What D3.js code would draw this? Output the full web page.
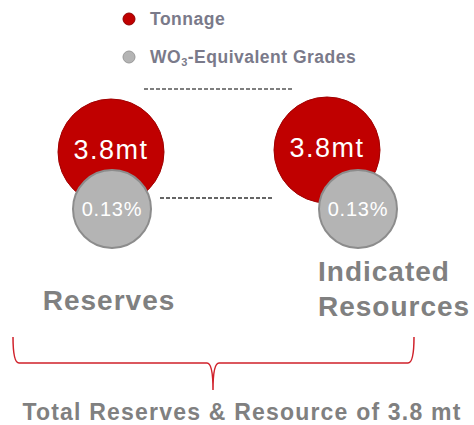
<!DOCTYPE html>
<html>
<head>
<meta charset="utf-8">
<script src="https://cdn.jsdelivr.net/npm/d3@7"></script>
<style>
  body { margin: 0; background: #fff; }
  text { font-family: "Liberation Sans", Arial, sans-serif; }
</style>
</head>
<body>
<script>
// chart values
const categories = ["Reserves", "Indicated Resources"];
const tonnage = [3.8, 3.8];       // mt
const grades = [0.13, 0.13];      // % WO3-equivalent
const legendLabels = ["Tonnage", "WO3-Equivalent Grades"];
const totalLabel = "Total Reserves & Resource of 3.8 mt";

const W = 474, H = 425;
const red = "#c00000", grey = "#b4b4b4", textGrey = "#808080";

const svg = d3.select("body").append("svg")
    .attr("width", W).attr("height", H);

// scales
let x = d3.scalePoint().domain(categories).range([111, 327]);
let rTon = d3.scaleSqrt().domain([0, 3.8]).range([0, 53]);
let rGrade = d3.scaleSqrt().domain([0, 0.13]).range([0, 39]);

// layout offsets of the grade bubble relative to the tonnage bubble
const gradeOffset = [[1, 57], [31, 59]];
const bubbleY = [152, 150];

// legend
const legend = svg.append("g");
legendLabels.forEach((lab, i) => {
    let y = 19 + i * 38;
    legend.append("circle")
        .attr("cx", 129).attr("cy", y).attr("r", 6)
        .attr("fill", i == 0 ? red : grey)
        .attr("stroke", i == 0 ? "#900000" : "#999").attr("stroke-width", 1);
    let t = legend.append("text")
        .attr("x", 150).attr("y", y + 6)
        .attr("fill", "#7a7a8a")
        .attr("font-size", 17.5).attr("font-weight", "bold")
        .attr("letter-spacing", 0.5);
    if (i == 1) {
        t.append("tspan").text("WO");
        t.append("tspan").text("3").attr("font-size", 11).attr("dy", 3);
        t.append("tspan").text("-Equivalent Grades").attr("dy", -3);
    } else {
        t.text(lab);
    }
});

// dashed connectors
svg.append("line")
    .attr("x1", 144).attr("x2", 294).attr("y1", 89).attr("y2", 89)
    .attr("stroke", "#555").attr("stroke-width", 1.3).attr("stroke-dasharray", "4,2");
svg.append("line")
    .attr("x1", 160).attr("x2", 273).attr("y1", 198).attr("y2", 198)
    .attr("stroke", "#333").attr("stroke-width", 1.3).attr("stroke-dasharray", "4,2");

// bubbles
const data = categories.map((c, i) => ({
    cat: c, ton: tonnage[i], grade: grades[i], i: i
}));

const g = svg.selectAll(".bubble")
    .data(data)
    .join("g")
    .attr("class", "bubble");

g.append("circle")
    .attr("cx", d => x(d.cat))
    .attr("cy", d => bubbleY[d.i])
    .attr("r", d => rTon(d.ton))
    .attr("fill", red)
    .attr("stroke", "#a00000").attr("stroke-width", 1);

g.append("text")
    .attr("x", d => x(d.cat))
    .attr("y", d => bubbleY[d.i] + 7)
    .attr("text-anchor", "middle")
    .attr("fill", "#fff")
    .attr("font-size", 27)
    .attr("letter-spacing", 1.5)
    .text(d => d.ton + "mt");

g.append("circle")
    .attr("cx", d => x(d.cat) + gradeOffset[d.i][0])
    .attr("cy", d => bubbleY[d.i] + gradeOffset[d.i][1])
    .attr("r", d => rGrade(d.grade))
    .attr("fill", grey)
    .attr("stroke", "#8c8c8c").attr("stroke-width", 2);

g.append("text")
    .attr("x", d => x(d.cat) + gradeOffset[d.i][0])
    .attr("y", d => bubbleY[d.i] + gradeOffset[d.i][1] + 7)
    .attr("text-anchor", "middle")
    .attr("fill", "#fff")
    .attr("font-size", 20)
    .attr("letter-spacing", 0.8)
    .text(d => d.grade.toFixed(2) + "%");

// category labels
svg.append("text")
    .attr("x", 109).attr("y", 310)
    .attr("text-anchor", "middle")
    .attr("fill", textGrey).attr("font-size", 28).attr("font-weight", "bold")
    .attr("letter-spacing", 1)
    .text(categories[0]);
const lab2 = svg.append("text")
    .attr("x", 318).attr("y", 281)
    .attr("fill", textGrey).attr("font-size", 28).attr("font-weight", "bold")
    .attr("letter-spacing", 1);
categories[1].split(" ").forEach((w, k) => {
    lab2.append("tspan").attr("x", 318).attr("dy", k ? 35 : 0).text(w);
});

// brace
const bx0 = 13, bx1 = 414, by = 363, bmid = 213;
svg.append("path")
    .attr("d", `M${bx0},337 Q${bx0},${by} ${bx0 + 6},${by} L${bmid - 6},${by} Q${bmid},${by} ${bmid},${by + 27}
                Q${bmid},${by} ${bmid + 6},${by} L${bx1 - 6},${by} Q${bx1},${by} ${bx1},337`)
    .attr("fill", "none").attr("stroke", "#d0202a").attr("stroke-width", 1.5);

svg.append("text")
    .attr("x", 242).attr("y", 420)
    .attr("text-anchor", "middle")
    .attr("fill", textGrey).attr("font-size", 23).attr("font-weight", "bold")
    .attr("letter-spacing", 1.2)
    .text(totalLabel);
</script>
</body>
</html>
